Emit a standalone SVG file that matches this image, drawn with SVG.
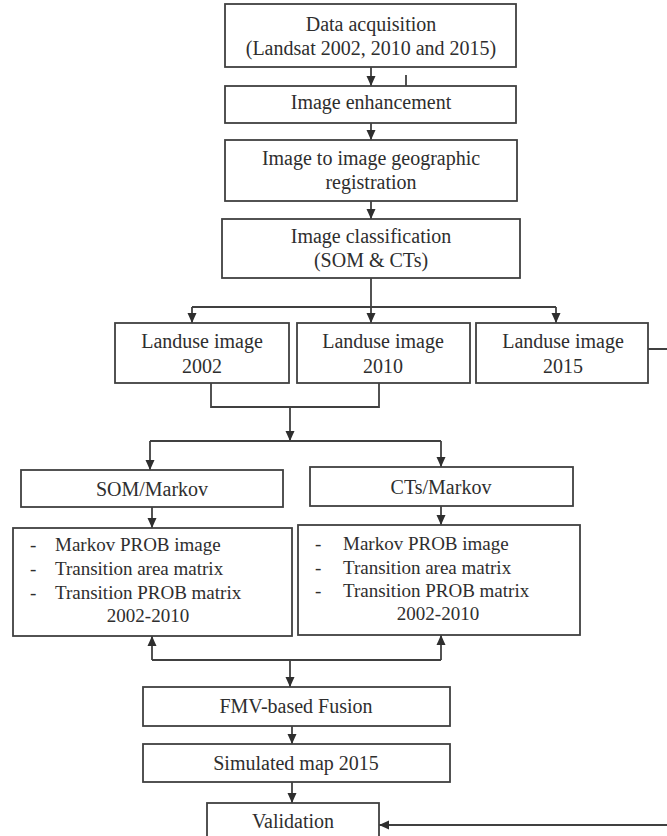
<svg xmlns="http://www.w3.org/2000/svg" width="667" height="836" viewBox="0 0 667 836">
<style>
.box{fill:#fff;stroke:#404040;stroke-width:1.8}
.ln{fill:none;stroke:#404040;stroke-width:1.8}
.t{font-family:"Liberation Serif","Times New Roman",serif;font-size:20px;fill:#2e2e2e;text-anchor:middle}
.s{font-family:"Liberation Serif","Times New Roman",serif;font-size:19px;fill:#2e2e2e}
.m{text-anchor:middle}
</style>
<defs>
<marker id="ah" markerUnits="userSpaceOnUse" markerWidth="10" markerHeight="10" viewBox="0 0 10 10" refX="10" refY="5" orient="auto">
<path d="M0,0.5 L10,5 L0,9.5 z" fill="#2e2e2e"/>
</marker>
</defs>
<rect width="667" height="836" fill="#fff"/>
<g id="connectors">
<line class="ln" x1="371" y1="67" x2="371" y2="86" marker-end="url(#ah)"/>
<line class="ln" x1="406" y1="75" x2="406" y2="97"/>
<line class="ln" x1="371" y1="123" x2="371" y2="140" marker-end="url(#ah)"/>
<line class="ln" x1="371" y1="201" x2="371" y2="219" marker-end="url(#ah)"/>
<line class="ln" x1="371" y1="278" x2="371" y2="307"/>
<line class="ln" x1="192" y1="307" x2="556" y2="307"/>
<line class="ln" x1="192" y1="307" x2="192" y2="323" marker-end="url(#ah)"/>
<line class="ln" x1="371" y1="307" x2="371" y2="323" marker-end="url(#ah)"/>
<line class="ln" x1="556" y1="307" x2="556" y2="323" marker-end="url(#ah)"/>
<polyline class="ln" points="211,383 211,407 379,407 379,383"/>
<line class="ln" x1="290" y1="407" x2="290" y2="441" marker-end="url(#ah)"/>
<line class="ln" x1="150" y1="441" x2="441" y2="441"/>
<line class="ln" x1="150" y1="441" x2="150" y2="470" marker-end="url(#ah)"/>
<line class="ln" x1="441" y1="441" x2="441" y2="467" marker-end="url(#ah)"/>
<line class="ln" x1="152" y1="507" x2="152" y2="528" marker-end="url(#ah)"/>
<line class="ln" x1="441" y1="506" x2="441" y2="525" marker-end="url(#ah)"/>
<line class="ln" x1="152" y1="660" x2="441" y2="660"/>
<line class="ln" x1="152" y1="660" x2="152" y2="636" marker-end="url(#ah)"/>
<line class="ln" x1="441" y1="660" x2="441" y2="635" marker-end="url(#ah)"/>
<line class="ln" x1="290" y1="660" x2="290" y2="687" marker-end="url(#ah)"/>
<line class="ln" x1="292" y1="726" x2="292" y2="744" marker-end="url(#ah)"/>
<line class="ln" x1="292" y1="782" x2="292" y2="803" marker-end="url(#ah)"/>
<polyline class="ln" points="648,349 672,349 672,825 379,825" marker-end="url(#ah)"/>
</g>
<g id="n-acq"><rect class="box" x="225" y="4" width="291" height="63"/>
<text class="t" x="371" y="31">Data acquisition</text>
<text class="t" x="371" y="55">(Landsat 2002, 2010 and 2015)</text></g>
<g id="n-enh"><rect class="box" x="225" y="86" width="291" height="37"/>
<text class="t" x="371" y="109">Image enhancement</text></g>
<g id="n-reg"><rect class="box" x="225" y="140" width="292" height="61"/>
<text class="t" x="371" y="165">Image to image geographic</text>
<text class="t" x="371" y="189">registration</text></g>
<g id="n-cls"><rect class="box" x="222" y="219" width="298" height="59"/>
<text class="t" x="371" y="243">Image classification</text>
<text class="t" x="371" y="267">(SOM &amp; CTs)</text></g>
<g id="n-lu2002"><rect class="box" x="115" y="323" width="174" height="60"/>
<text class="t" x="202" y="348">Landuse image</text>
<text class="t" x="202" y="373">2002</text></g>
<g id="n-lu2010"><rect class="box" x="297" y="323" width="173" height="60"/>
<text class="t" x="383" y="348">Landuse image</text>
<text class="t" x="383" y="373">2010</text></g>
<g id="n-lu2015"><rect class="box" x="476" y="323" width="172" height="60"/>
<text class="t" x="563" y="348">Landuse image</text>
<text class="t" x="563" y="373">2015</text></g>
<g id="n-som"><rect class="box" x="21" y="470" width="262" height="37"/>
<text class="t" x="152" y="496">SOM/Markov</text></g>
<g id="n-cts"><rect class="box" x="310" y="467" width="263" height="39"/>
<text class="t" x="441" y="494">CTs/Markov</text></g>
<g id="n-somout"><rect class="box" x="13" y="528" width="279" height="108"/>
<text class="s" x="30" y="551">-</text><text class="s" x="55" y="551">Markov PROB image</text>
<text class="s" x="30" y="575">-</text><text class="s" x="55" y="575">Transition area matrix</text>
<text class="s" x="30" y="599">-</text><text class="s" x="55" y="599">Transition PROB matrix</text>
<text class="s m" x="148" y="622">2002-2010</text></g>
<g id="n-ctsout"><rect class="box" x="298" y="525" width="282" height="110"/>
<text class="s" x="315" y="550">-</text><text class="s" x="343" y="550">Markov PROB image</text>
<text class="s" x="315" y="573.5">-</text><text class="s" x="343" y="573.5">Transition area matrix</text>
<text class="s" x="315" y="597">-</text><text class="s" x="343" y="597">Transition PROB matrix</text>
<text class="s m" x="438" y="620">2002-2010</text></g>
<g id="n-fmv"><rect class="box" x="143" y="687" width="307" height="39"/>
<text class="t" x="296" y="713">FMV-based Fusion</text></g>
<g id="n-sim"><rect class="box" x="143" y="744" width="307" height="38"/>
<text class="t" x="296" y="770">Simulated map 2015</text></g>
<g id="n-val"><rect class="box" x="207" y="803" width="172" height="45"/>
<text class="t" x="293" y="828">Validation</text></g>
</svg>
